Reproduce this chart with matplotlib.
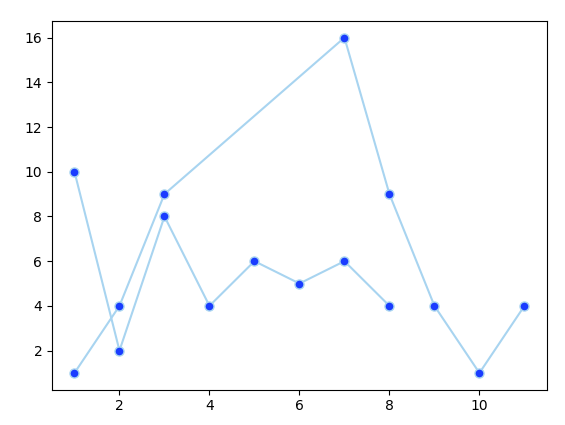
import matplotlib.pyplot as plt

# dados das duas séries
x1 = [1, 2, 3, 4, 5, 6, 7, 8]
y1 = [10, 2, 8, 4, 6, 5, 6, 4]
x2 = [1, 2, 3, 7, 8, 9, 10, 11]
y2 = [1, 4, 9, 16, 9, 4, 1, 4]

fig, ax = plt.subplots(figsize=(5.65, 4.25), dpi=100)

line_color = '#a8d4f0'
for xs, ys in [(x1, y1), (x2, y2)]:
    ax.plot(xs, ys, color=line_color, linewidth=1.5, marker='o', markersize=6.5,
            markerfacecolor='#1a3cff', markeredgecolor='#a8d4f0', markeredgewidth=1.0)

plt.subplots_adjust(left=0.092, right=0.968, top=0.951, bottom=0.083)
plt.savefig('out.png', dpi=100)
